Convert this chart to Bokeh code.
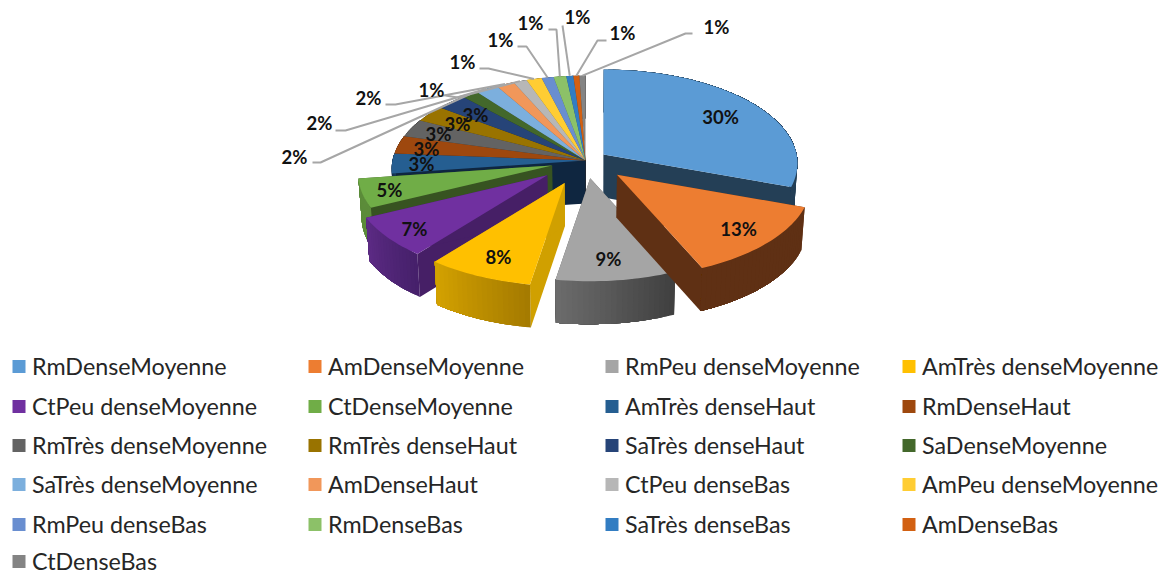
import math
from bokeh.plotting import figure
from bokeh.models import Range1d, ColumnDataSource
from bokeh.core.properties import value
from bokeh.embed import file_html
from bokeh.resources import INLINE

# ---- data ----
categories = ["RmDenseMoyenne", "AmDenseMoyenne", "RmPeu denseMoyenne", "AmTrès denseMoyenne",
              "CtPeu denseMoyenne", "CtDenseMoyenne", "AmTrès denseHaut", "RmDenseHaut",
              "RmTrès denseMoyenne", "RmTrès denseHaut", "SaTrès denseHaut", "SaDenseMoyenne",
              "SaTrès denseMoyenne", "AmDenseHaut", "CtPeu denseBas", "AmPeu denseMoyenne",
              "RmPeu denseBas", "RmDenseBas", "SaTrès denseBas", "AmDenseBas", "CtDenseBas"]
shares = [30.5, 12.9, 9.2, 8.1, 7.1, 5.0, 3.4, 3.1, 3.1, 2.9, 2.8, 1.5, 2.1, 1.65, 1.25, 1.4,
          1.1, 1.15, 0.65, 0.55, 0.55]
labels = ["30%", "13%", "9%", "8%", "7%", "5%", "3%", "3%", "3%", "3%", "3%", "2%", "2%", "2%",
          "1%", "1%", "1%", "1%", "1%", "1%", "1%"]
top_colors = ["#5b9bd5", "#ed7d31", "#a5a5a5", "#ffc000", "#7030a0", "#70ad47", "#255e91", "#9e480e",
              "#636363", "#997300", "#264478", "#43682b", "#7cafdd", "#f1975a", "#b7b7b7", "#ffcd33",
              "#698ed0", "#8cc168", "#327dc2", "#d26012", "#848484"]
explode = [0.115, 0.22, 0.19, 0.26, 0.25, 0.18] + [0.0] * 15

# ---- styling / projection ----
CX, CY = 585, 160
R, KR, PERSP = 193, 93, 0.0957
DEPTH, SHRINK = 43, 0.985
cut_colors = {0: "#243f56", 1: "#5f3014", 2: "#555555", 3: "#d0a000", 4: "#461f66", 5: "#375321", 6: "#0f2640"}
rim_colors = {0: ("#243f56", "#243f56"), 1: ("#5f3014", "#5f3014"), 2: ("#3f3f3f", "#6c6c6c"),
              3: ("#a47a00", "#d4a200"), 4: ("#45206a", "#5d2b85"), 5: ("#5c8c3a", "#5c8c3a"),
              6: ("#0f2640", "#1a3c5c")}
LABEL_XY = [(720, 116), (738, 228), (608, 258), (498, 256), (414, 228), (389, 189), (421, 163),
            (426, 148), (438, 133), (457, 123), (475, 114)]
OUT_XY = [(294, 156), (319, 122), (368, 97), (431, 89), (462, 61), (500, 39), (530, 22),
          (577, 16), (622, 32), (716, 26)]
KNEES = [[(312, 162), (320, 162)], [(335, 130), (345, 130)], [(385, 104), (395, 104)],
         [(445, 95), (457, 97)], [(479, 68), (488, 68)], [(517, 46), (526, 46)],
         [(548, 29), (556, 29)], [(562, 25)], [(606, 40), (597, 40)], [(692, 33), (685, 33)]]
LEG_X = [12, 308, 605, 902]
LEG_Y = [365, 405, 444, 483, 523, 560]
FONT = "Lato"


def proj(u, v):
    s = 1 / (1 - PERSP * v)
    return CX + R * u * s, CY + KR * v * s


def unit(t):
    a = math.radians(t)
    return math.sin(a), -math.cos(a)


def low(pt):
    return CX + (pt[0] - CX) * SHRINK, pt[1] + DEPTH


def hexrgb(c):
    return [int(c[i:i + 2], 16) for i in (1, 3, 5)]


def mix(a, b, f):
    return "#%02x%02x%02x" % tuple(round(x + (y - x) * f) for x, y in zip(hexrgb(a), hexrgb(b)))


def dark(c, f=0.55):
    return "#%02x%02x%02x" % tuple(round(x * f) for x in hexrgb(c))


total = sum(shares)
spans, t0 = [], 0.0
for s in shares:
    spans.append((t0, t0 + s / total * 360))
    t0 += s / total * 360

xs, ys, cols = [], [], []


def add(pts, c):
    xs.append([q[0] for q in pts])
    ys.append([q[1] for q in pts])
    cols.append(c)


def draw_slice(i):
    a, b = spans[i]
    mu, mv = unit((a + b) / 2)
    apex = proj(explode[i] * mu, explode[i] * mv)
    dx, dy = apex[0] - CX, apex[1] - CY
    n = max(3, int((b - a) / 1.5))
    rim = []
    for k in range(n + 1):
        q = proj(*unit(a + (b - a) * k / n))
        rim.append((q[0] + dx, q[1] + dy))
    cc = cut_colors.get(i, dark(top_colors[i]))
    rc = rim_colors.get(i, (dark(top_colors[i]), dark(top_colors[i])))
    add([apex, rim[0], low(rim[0]), low(apex)], cc)
    add([apex, rim[-1], low(rim[-1]), low(apex)], cc)
    # overlapping strips: each one reaches under the next, so no seams show
    for k in range(n):
        arc = rim[k:]
        add(arc + [low(q) for q in reversed(arc)], mix(rc[0], rc[1], (k + 0.5) / n))
    return [apex] + rim


# unexploded group behind, then the separated slices back to front
tops = {}
for i in range(20, 5, -1):
    tops[i] = draw_slice(i)
for i in range(6, 21):
    add(tops[i], top_colors[i])
for i in [0, 5, 4, 3, 2, 1]:
    pts = draw_slice(i)
    add(pts, top_colors[i])

p = figure(width=1171, height=573, output_backend="svg", toolbar_location=None,
           x_range=Range1d(0, 1171), y_range=Range1d(573, 0), min_border=0,
           background_fill_color="white", border_fill_color="white")
p.axis.visible = False
p.grid.visible = False
p.outline_line_color = None

p.patches("xs", "ys", source=ColumnDataSource(dict(xs=xs, ys=ys, c=cols)),
          fill_color="c", line_color=None)

# leader lines to the rim of the ten small slices
lx, ly = [], []
for j, i in enumerate(range(11, 21)):
    a, b = spans[i]
    end = proj(*unit((a + b) / 2))
    lx.append([q[0] for q in KNEES[j]] + [end[0]])
    ly.append([q[1] for q in KNEES[j]] + [end[1]])
p.multi_line(lx, ly, line_color="#a6a6a6", line_width=2)

# data labels
lab_xy = LABEL_XY + OUT_XY
p.text([q[0] for q in lab_xy], [q[1] for q in lab_xy], text=labels,
       text_font=value(FONT), text_font_size="18.5px", text_font_style="bold", text_color="#111111",
       text_align="center", text_baseline="middle")

# legend
mx, my, mc, tx, ty = [], [], [], [], []
for i in range(len(categories)):
    col, row = i % 4, i // 4
    mx.append(LEG_X[col] + 6.5)
    my.append(LEG_Y[row] + 1)
    mc.append(top_colors[i])
    tx.append(LEG_X[col] + 19.5)
    ty.append(LEG_Y[row])
p.scatter(mx, my, marker="square", size=13, fill_color=mc, line_color=None)
p.text(tx, ty, text=categories, text_font=value(FONT), text_font_size="23.3px", text_color="#262626",
       text_align="left", text_baseline="middle")

open("out.html", "w").write(file_html(p, INLINE))
